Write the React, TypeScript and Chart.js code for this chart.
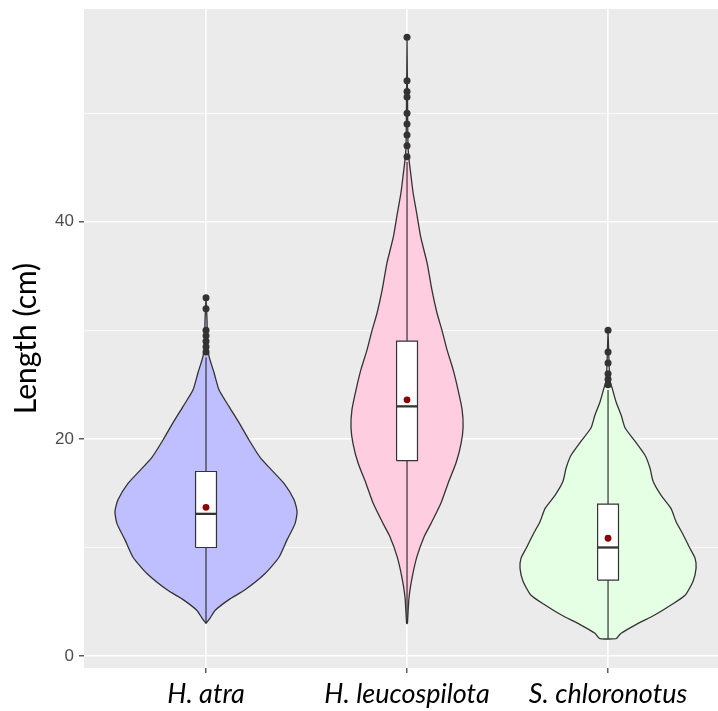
import { useEffect, useRef } from 'react';
import { Chart, registerables } from 'chart.js';

Chart.register(...registerables);

// ---------- data ----------
const categories = ['H. atra', 'H. leucospilota', 'S. chloronotus'];
const violinFills = ['#BFBFFF', '#FFCCE0', '#E5FFE5'];

// violin outlines: length levels (cm) and half-widths (x units, 1 = category spacing)
const atraLevels = [3.0, 3.5, 4.2, 5.2, 6.1, 7.6, 9.1, 10.7, 12.2, 13.3, 14.4, 15.9, 17.1, 18.3, 19.9, 21.5, 23.0, 24.5, 26.1, 27.6, 29.0, 31.0, 33.0];
const atraHalfWidths = [0, 0.02, 0.045, 0.114, 0.194, 0.294, 0.363, 0.403, 0.443, 0.453, 0.438, 0.388, 0.328, 0.269, 0.214, 0.164, 0.114, 0.065, 0.04, 0.015, 0.007, 0.005, 0];

const leucoLevels = [3.0, 5.4, 7.3, 9.2, 11.0, 12.2, 14.1, 15.9, 17.8, 19.6, 21.1, 22.7, 24.5, 26.4, 28.2, 30.0, 31.6, 33.7, 36.2, 38.6, 40.8, 42.7, 44.5, 45.7, 47.0, 50.0, 57.0];
const leucoHalfWidths = [0.002, 0.01, 0.026, 0.05, 0.085, 0.119, 0.169, 0.204, 0.244, 0.269, 0.279, 0.274, 0.254, 0.229, 0.199, 0.174, 0.149, 0.124, 0.1, 0.068, 0.048, 0.03, 0.018, 0.01, 0.005, 0.003, 0];

const chlorLevels = [1.6, 2.1, 2.9, 3.8, 4.7, 5.6, 6.9, 8.1, 9.0, 9.9, 11.2, 12.4, 13.6, 14.8, 16.1, 17.3, 18.5, 19.8, 21.0, 22.2, 23.4, 24.7, 25.3, 27.0, 30.0];
const chlorHalfWidths = [0.041, 0.065, 0.139, 0.234, 0.313, 0.383, 0.423, 0.438, 0.433, 0.408, 0.373, 0.338, 0.313, 0.264, 0.224, 0.209, 0.184, 0.134, 0.085, 0.065, 0.04, 0.02, 0.01, 0.005, 0];

// boxplot statistics
const whiskerLow = [3.0, 3.0, 1.6];
const q1 = [10, 18, 7];
const median = [13.1, 23, 10];
const q3 = [17, 29, 14];
const whiskerHigh = [27.5, 45.5, 24.5];
const means = [13.7, 23.6, 10.85];

// outliers
const atraOutliers = [33, 32, 30, 29.5, 29, 28.5, 28];
const leucoOutliers = [57, 53, 52, 51.5, 50, 49, 48, 47, 46];
const chlorOutliers = [30, 28, 27, 26, 25.5, 25];

// axis ticks
const yTickValues = [0, 10, 20, 30, 40, 50];
const yLabelValues = [0, 20, 40];

// ---------- style ----------
const INK = '#333333';
const BOX_HALF = 0.052;

const violinLevels = [atraLevels, leucoLevels, chlorLevels];
const violinHalfWidths = [atraHalfWidths, leucoHalfWidths, chlorHalfWidths];
const outliers = [atraOutliers, leucoOutliers, chlorOutliers];

function buildDatasets() {
  const ds: any[] = [];
  categories.forEach((_, i) => {
    const c = i + 1;
    const lv = violinLevels[i];
    const hw = violinHalfWidths[i];
    const right = lv.map((v, k) => ({ x: c + hw[k], y: v }));
    const left = lv.map((v, k) => ({ x: c - hw[k], y: v })).reverse();
    ds.push({
      type: 'line',
      data: [...right, ...left, right[0]],
      fill: 'shape',
      backgroundColor: violinFills[i],
      borderColor: INK,
      borderWidth: 1.3,
      pointRadius: 0,
      tension: 0.2,
      order: 10,
    });
    ds.push({
      type: 'line',
      data: [{ x: c, y: whiskerLow[i] }, { x: c, y: q1[i] }],
      borderColor: INK, borderWidth: 1.2, pointRadius: 0, fill: false, order: 8,
    });
    ds.push({
      type: 'line',
      data: [{ x: c, y: q3[i] }, { x: c, y: whiskerHigh[i] }],
      borderColor: INK, borderWidth: 1.2, pointRadius: 0, fill: false, order: 8,
    });
    ds.push({
      type: 'line',
      data: [
        { x: c - BOX_HALF, y: q1[i] }, { x: c + BOX_HALF, y: q1[i] },
        { x: c + BOX_HALF, y: q3[i] }, { x: c - BOX_HALF, y: q3[i] },
        { x: c - BOX_HALF, y: q1[i] },
      ],
      fill: 'shape', backgroundColor: '#FFFFFF',
      borderColor: INK, borderWidth: 1.2, pointRadius: 0, order: 6,
    });
    ds.push({
      type: 'line',
      data: [{ x: c - BOX_HALF, y: median[i] }, { x: c + BOX_HALF, y: median[i] }],
      borderColor: INK, borderWidth: 2.3, pointRadius: 0, fill: false, order: 4,
    });
    ds.push({
      type: 'line',
      showLine: false,
      data: outliers[i].map((v) => ({ x: c, y: v })),
      pointRadius: 3.5, pointBackgroundColor: INK, pointBorderColor: INK, pointBorderWidth: 0,
      order: 2,
    });
    ds.push({
      type: 'line',
      showLine: false,
      data: [{ x: c, y: means[i] }],
      pointRadius: 3.4, pointBackgroundColor: '#8B0000', pointBorderColor: '#8B0000', pointBorderWidth: 0,
      order: 0,
    });
  });
  return ds;
}

const panelBg = {
  id: 'panelBg',
  beforeDraw(chart: any) {
    const { ctx, chartArea: a } = chart;
    ctx.save();
    ctx.fillStyle = '#EBEBEB';
    ctx.fillRect(a.left, a.top, a.right - a.left, a.bottom - a.top);
    ctx.restore();
  },
};

export default function App() {
  const ref = useRef<HTMLCanvasElement>(null);
  useEffect(() => {
    const chart = new Chart(ref.current as HTMLCanvasElement, {
      type: 'line',
      data: { datasets: buildDatasets() },
      options: {
        animation: false,
        responsive: false,
        devicePixelRatio: 1,
        events: [],
        layout: { autoPadding: false, padding: { top: 9, left: 0, right: 0, bottom: 0 } },
        plugins: { legend: { display: false }, tooltip: { enabled: false } },
        scales: {
          x: {
            type: 'linear',
            min: 0.393,
            max: 3.547,
            afterBuildTicks: (sc: any) => { sc.ticks = [1, 2, 3].map((v) => ({ value: v })); },
            afterFit: (sc: any) => {
              sc.height = 43;
              sc.paddingLeft = 0; sc.paddingRight = 0; sc.paddingTop = 0; sc.paddingBottom = 0;
            },
            grid: { color: '#FFFFFF', lineWidth: 1.6, drawTicks: true, tickLength: 5, tickColor: INK, tickWidth: 1.2 },
            border: { display: false },
            ticks: {
              autoSkip: false, maxRotation: 0, minRotation: 0, padding: 5,
              color: '#000000',
              font: { family: 'Lato', size: 27, style: 'italic' },
              callback: (v: any) => categories[Math.round(Number(v)) - 1] ?? '',
            },
          },
          y: {
            type: 'linear',
            min: -1.1,
            max: 59.6,
            afterBuildTicks: (sc: any) => { sc.ticks = yTickValues.map((v) => ({ value: v })); },
            afterFit: (sc: any) => {
              sc.width = 84;
              sc.paddingLeft = 0; sc.paddingRight = 0; sc.paddingTop = 0; sc.paddingBottom = 0;
            },
            grid: {
              color: '#FFFFFF',
              lineWidth: (ctx: any) => (ctx.tick && ctx.tick.value % 20 === 0 ? 1.6 : 0.8),
              drawTicks: true,
              tickLength: 5,
              tickColor: (ctx: any) => (ctx.tick && ctx.tick.value % 20 === 0 ? INK : 'rgba(0,0,0,0)'),
              tickWidth: 1.2,
            },
            border: { display: false },
            ticks: {
              padding: 5,
              color: '#4D4D4D',
              font: { family: 'Liberation Sans', size: 17 },
              callback: (v: any) => (yLabelValues.includes(Number(v)) ? String(v) : ''),
            },
            title: {
              display: true,
              text: 'Length (cm)',
              color: '#000000',
              font: { family: 'Lato', size: 30 },
              padding: { top: 8, bottom: 0 },
            },
          },
        },
      },
      plugins: [panelBg],
    } as any);
    return () => chart.destroy();
  }, []);
  return (
    <div style={{ position: 'fixed', left: 0, top: 0, width: 718, height: 711, background: '#FFFFFF' }}>
      <canvas ref={ref} width={718} height={711} style={{ display: 'block', width: 718, height: 711 }} />
    </div>
  );
}
